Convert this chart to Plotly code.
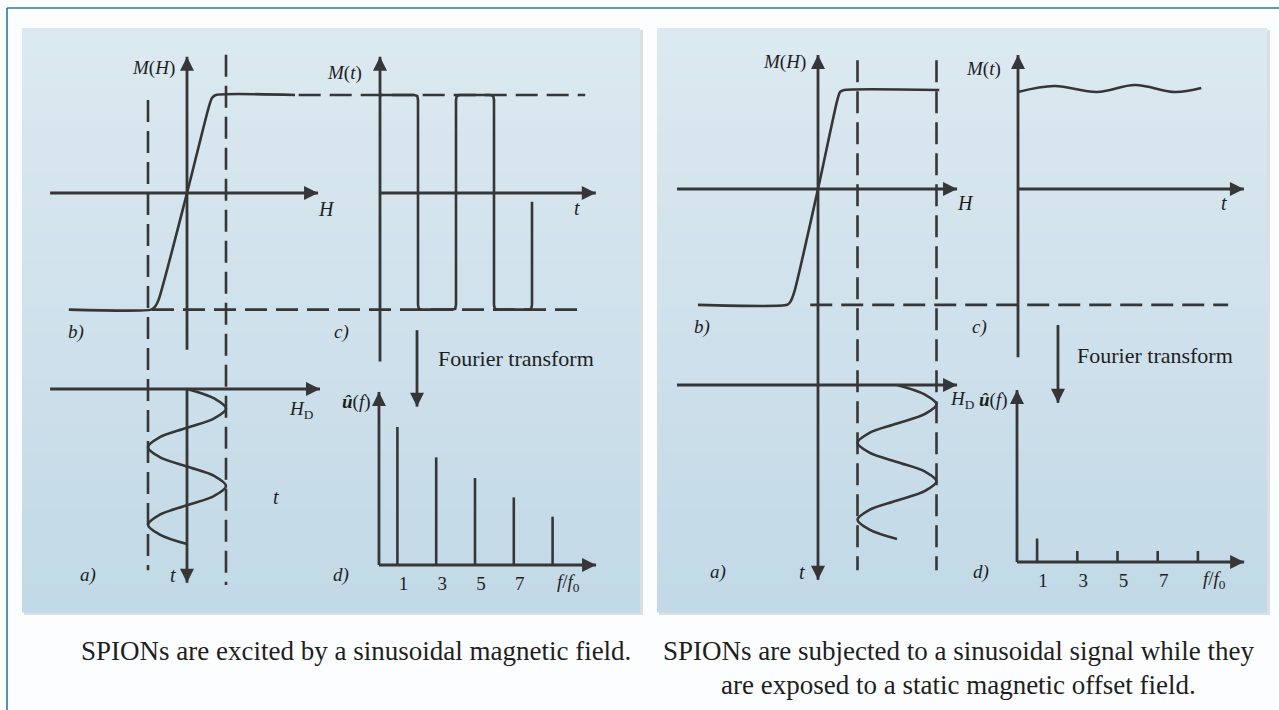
import plotly.graph_objects as go

W, H = 1279, 710
INK = "#363636"
TXT = "#1e1e1e"
LW = 2.6
AXW = 2.8
FONT = "Liberation Serif"

# ======================= DATA =======================
# ---- left half: SPIONs excited by a sinusoidal field ----
# b) magnetisation curve M(H)  (H in drive amplitudes, M in saturation units)
L_MH_H = [-3.03, -0.92, -0.82, -0.72, 0.0, 0.56, 0.64, 0.74, 2.77]
L_MH_M = [-1.19, -1.19, -1.16, -1.08, 0.0, 0.88, 0.97, 1.0, 1.0]
L_M_SAT_HI = 1.0
L_M_SAT_LO = -1.19
# c) M(t) response, square-like wave (t in drive periods)
L_MT_T = [0, 0.45, 0.49, 0.5, 0.5, 0.51, 0.55, 0.95, 0.99, 1.0, 1.0, 1.01, 1.05,
          1.45, 1.49, 1.5, 1.5, 1.51, 1.55, 1.95, 1.99, 2.0, 2.0]
L_MT_M = [1.0, 1.0, 0.99, 0.95, -1.14, -1.18, -1.19, -1.19, -1.18, -1.14, 0.95, 0.99, 1.0,
          1.0, 0.99, 0.95, -1.14, -1.18, -1.19, -1.19, -1.18, -1.14, -0.09]
# a) drive field H_D(t)
L_HD_T = [0, 0.125, 0.25, 0.375, 0.5, 0.625, 0.75, 0.875, 1.0,
          1.125, 1.25, 1.375, 1.5, 1.625, 1.75, 1.875, 2.0]
L_HD_H = [0, 0.71, 1, 0.71, 0, -0.71, -1, -0.71, 0,
          0.71, 1, 0.71, 0, -0.71, -1, -0.71, 0]
# d) spectrum
L_HARM_F = [1, 3, 5, 7, 9]
L_HARM_A = [1.0, 0.78, 0.63, 0.49, 0.35]

# ---- right half: sinusoidal signal with static offset field ----
R_MH_H = [-3.04, -0.78, -0.7, -0.6, 0.0, 0.49, 0.56, 0.66, 3.07]
R_MH_M = [-1.17, -1.17, -1.14, -1.04, 0.0, 0.9, 0.98, 1.0, 1.0]
R_M_SAT_LO = -1.17
R_MT_T = [0, 0.46, 1.0, 1.48, 1.99, 2.32]
R_MT_M = [0.98, 1.04, 0.98, 1.05, 0.98, 1.02]
R_H_OFFSET = 2.0
R_HD_T = L_HD_T
R_HD_H = [R_H_OFFSET + v for v in L_HD_H]
R_HARM_F = [1, 3, 5, 7, 9]
R_HARM_A = [0.17, 0.08, 0.08, 0.08, 0.08]

TICK_VALS = [1, 3, 5, 7]
TICK_TEXT = ["1", "3", "5", "7"]

CAPTION_L = "SPIONs are excited by a sinusoidal magnetic field."
CAPTION_R1 = "SPIONs are subjected to a sinusoidal signal while they"
CAPTION_R2 = "are exposed to a static magnetic offset field."

# ======================= LAYOUT HELPERS =======================
fig = go.Figure()
layout_axes = {}


def xaxis(name, px0, px1, origin, unit, anchor):
    layout_axes[name] = dict(domain=[px0 / W, px1 / W],
                             range=[(px0 - origin) / unit, (px1 - origin) / unit],
                             visible=False, fixedrange=True, anchor=anchor)


def freq_axis(name, px0, px1, origin, unit, base_py):
    # frequency axis: only its tick labels are shown, just under the drawn f-axis arrow
    layout_axes[name] = dict(domain=[px0 / W, px1 / W],
                             range=[(px0 - origin) / unit, (px1 - origin) / unit],
                             visible=True, fixedrange=True, anchor="free", position=1 - base_py / H,
                             showline=False, showgrid=False, zeroline=False, ticks="",
                             tickmode="array", tickvals=TICK_VALS, ticktext=TICK_TEXT,
                             ticklabelstandoff=5, ticklabelshift=6,
                             tickfont=dict(family=FONT, size=19, color=TXT))


def yaxis_up(name, origin, unit, anchor):
    layout_axes[name] = dict(domain=[0, 1], range=[(origin - H) / unit, origin / unit],
                             visible=False, fixedrange=True, anchor=anchor)


def yaxis_down(name, origin, unit, anchor):
    layout_axes[name] = dict(domain=[0, 1], range=[(H - origin) / unit, -origin / unit],
                             visible=False, fixedrange=True, anchor=anchor)


# left half scales (pixel origin, pixels per unit)
xaxis("xaxis", 0, 648, 187, 39.0, "y")          # H   (b, a)
xaxis("xaxis2", 0, 648, 380, 76.0, "y")         # t   (c)
freq_axis("xaxis3", 0, 648, 378, 19.4, 565)     # f/f0 (d)
yaxis_up("yaxis", 193, 98.0, "x")               # M   (b, c)
yaxis_down("yaxis2", 389, 77.5, "x")            # t   (a)
yaxis_up("yaxis3", 565, 138.0, "x3")            # amplitude (d)
# right half scales
xaxis("xaxis4", 648, W, 818, 39.5, "y4")
xaxis("xaxis5", 648, W, 1018, 79.0, "y4")
freq_axis("xaxis6", 648, W, 1017, 20.1, 562)
yaxis_up("yaxis4", 189, 99.0, "x4")
yaxis_down("yaxis5", 385, 77.0, "x4")
yaxis_up("yaxis6", 562, 138.0, "x6")


def line(xs, ys, xa, ya, width=LW, dash=None, shape="linear", smoothing=None):
    ld = dict(color=INK, width=width, shape=shape)
    if dash:
        ld["dash"] = dash
    if smoothing is not None:
        ld["smoothing"] = smoothing
    fig.add_trace(go.Scatter(x=xs, y=ys, xaxis=xa, yaxis=ya, mode="lines", line=ld,
                             hoverinfo="skip", showlegend=False))


def arrow(x0, y0, x1, y1, xa, ya, symbol, size=14):
    line([x0, x1], [y0, y1], xa, ya, width=AXW)
    fig.add_trace(go.Scatter(x=[x1], y=[y1], xaxis=xa, yaxis=ya, mode="markers",
                             marker=dict(symbol=symbol, size=size, color=INK, line=dict(width=0)),
                             hoverinfo="skip", showlegend=False))


def spikes(fs, amps, xa, ya):
    xs, ys = [], []
    for f, a in zip(fs, amps):
        xs += [f, f, None]
        ys += [0, a, None]
    line(xs, ys, xa, ya, width=LW)


annotations = []


def label(text, px, py, size=19, xanchor="center", italic=False):
    font = dict(family=FONT, size=size, color=TXT)
    if italic:
        font["style"] = "italic"
    annotations.append(dict(text=text, x=px / W, y=1 - py / H, xref="paper", yref="paper",
                            xanchor=xanchor, yanchor="middle", showarrow=False, font=font))


DASH = "22px,9px"
MH_TXT = "<i>M</i>(<i>H</i>)"
MT_TXT = "<i>M</i>(<i>t</i>)"
HD_TXT = "<i>H</i><sub>D</sub>"
UF_TXT = "<i><b>û</b></i>(<i>f</i>)"
FF_TXT = "<i>f</i>/<i>f</i><sub>0</sub>"

# ======================= LEFT HALF =======================
# guides
line([-1.0, -1.0], [0.95, -3.85], "x", "y", dash=DASH)
line([1.0, 1.0], [1.41, -4.0], "x", "y", dash=DASH)
line([-1.07, 2.7], [L_M_SAT_HI, L_M_SAT_HI], "x2", "y", dash=DASH)
line([-3.0, 2.64], [L_M_SAT_LO, L_M_SAT_LO], "x2", "y", dash=DASH)
# b) axes + curve
arrow(-3.51, 0, 3.36, 0, "x", "y", "arrow-right")
arrow(0, -1.6, 0, 1.39, "x", "y", "arrow-up")
line(L_MH_H, L_MH_M, "x", "y", shape="spline", smoothing=0.6)
# c) axes + response
arrow(0, -1.72, 0, 1.39, "x2", "y", "arrow-up")
arrow(0, 0, 2.84, 0, "x2", "y", "arrow-right")
line(L_MT_T, L_MT_M, "x2", "y")
# Fourier arrow
arrow(0.487, -1.4, 0.487, -2.18, "x2", "y", "arrow-down")
# a) axes + drive field
arrow(-3.51, 0, 3.41, 0, "x", "y2", "arrow-right")
arrow(0, 0, 0, 2.5, "x", "y2", "arrow-down")
line(L_HD_H, L_HD_T, "x", "y2", shape="spline", smoothing=1.0)
# d) spectrum
arrow(0.05, 0, 0.05, 1.254, "x3", "y3", "arrow-up")
arrow(0.05, 0, 11.24, 0, "x3", "y3", "arrow-right")
spikes(L_HARM_F, L_HARM_A, "x3", "y3")

label(MH_TXT, 153, 68)
label("H", 326, 209, size=20, italic=True)
label(MT_TXT, 345, 73)
label("t", 577, 208, size=20, italic=True)
label("b)", 76, 332, italic=True)
label("c)", 341, 332, italic=True)
label("Fourier transform", 436, 358, size=22, xanchor="left")
label(HD_TXT, 301, 410)
label(UF_TXT, 356, 402)
label("t", 276, 497, size=20, italic=True)
label("a)", 88, 575, italic=True)
label("t", 173, 575, size=20, italic=True)
label("d)", 341, 575, italic=True)
label(FF_TXT, 568, 583)

# ======================= RIGHT HALF =======================
line([1.0, 1.0], [1.3, -3.85], "x4", "y4", dash=DASH)
line([3.0, 3.0], [1.3, -3.85], "x4", "y4", dash=DASH)
line([-2.63, 2.66], [R_M_SAT_LO, R_M_SAT_LO], "x5", "y4", dash=DASH)
# b)
arrow(-3.57, 0, 3.52, 0, "x4", "y4", "arrow-right")
arrow(0, -1.98, 0, 1.354, "x4", "y4", "arrow-up")
line(R_MH_H, R_MH_M, "x4", "y4", shape="spline", smoothing=0.6)
# c)
arrow(0, -1.7, 0, 1.354, "x5", "y4", "arrow-up")
arrow(0, 0, 2.86, 0, "x5", "y4", "arrow-right")
line(R_MT_T, R_MT_M, "x5", "y4", shape="spline", smoothing=1.0)
arrow(0.506, -1.374, 0.506, -2.16, "x5", "y4", "arrow-down")
# a)
arrow(-3.57, 0, 3.52, 0, "x4", "y5", "arrow-right")
arrow(0, 0, 0, 2.53, "x4", "y5", "arrow-down")
line(R_HD_H, R_HD_T, "x4", "y5", shape="spline", smoothing=1.0)
# d)
arrow(0, 0, 0, 1.246, "x6", "y6", "arrow-up")
arrow(0, 0, 11.3, 0, "x6", "y6", "arrow-right")
spikes(R_HARM_F, R_HARM_A, "x6", "y6")

label(MH_TXT, 784, 62)
label("H", 965, 203, size=20, italic=True)
label(MT_TXT, 983, 69)
label("t", 1224, 203, size=20, italic=True)
label("b)", 702, 327, italic=True)
label("c)", 979, 327, italic=True)
label("Fourier transform", 1075, 355, size=22, xanchor="left")
label(HD_TXT, 948, 400, xanchor="left")
label(UF_TXT, 1010, 400, xanchor="right")
label("a)", 718, 572, italic=True)
label("t", 802, 572, size=20, italic=True)
label("d)", 981, 572, italic=True)
label(FF_TXT, 1214, 580)

# captions
label(CAPTION_L, 356, 651, size=27)
label(CAPTION_R1, 958, 651, size=27)
label(CAPTION_R2, 958, 685, size=27)

# ======================= BACKGROUND =======================
shapes = []


def hexmix(c0, c1, f):
    a = [int(c0[i:i + 2], 16) for i in (1, 3, 5)]
    b = [int(c1[i:i + 2], 16) for i in (1, 3, 5)]
    return "#" + "".join("%02x" % round(a[k] + (b[k] - a[k]) * f) for k in range(3))


def panel(px0, py0, px1, py1):
    shapes.append(dict(type="rect", xref="paper", yref="paper", layer="below",
                       x0=(px0 + 2) / W, x1=(px1 + 3) / W, y0=1 - (py1 + 3) / H, y1=1 - (py0 + 2) / H,
                       fillcolor="#d9dfe3", line=dict(width=0)))
    n = 40
    for i in range(n):
        ya = py0 + (py1 - py0) * i / n
        yb = py0 + (py1 - py0) * (i + 1) / n
        shapes.append(dict(type="rect", xref="paper", yref="paper", layer="below",
                           x0=px0 / W, x1=px1 / W, y0=1 - (yb + 0.6) / H, y1=1 - ya / H,
                           fillcolor=hexmix("#dce9f0", "#c2d9e7", i / (n - 1)), line=dict(width=0)))


panel(22, 28, 640, 612)
panel(657, 28, 1267, 612)
shapes.append(dict(type="line", xref="paper", yref="paper", x0=7 / W, x1=1, y0=1 - 8 / H, y1=1 - 8 / H,
                   line=dict(color="#2a78a6", width=1.6)))
shapes.append(dict(type="line", xref="paper", yref="paper", x0=7 / W, x1=7 / W, y0=0, y1=1 - 8 / H,
                   line=dict(color="#2a78a6", width=1.6)))

fig.update_layout(width=W, height=H, margin=dict(l=0, r=0, t=0, b=0),
                  paper_bgcolor="#fbfdfe", plot_bgcolor="rgba(0,0,0,0)",
                  showlegend=False, hovermode=False,
                  annotations=annotations, shapes=shapes, **layout_axes)

fig.write_html("out.html", config={"displayModeBar": False, "staticPlot": True},
               post_script="document.body.style.margin='0';document.body.style.overflow='hidden';")
